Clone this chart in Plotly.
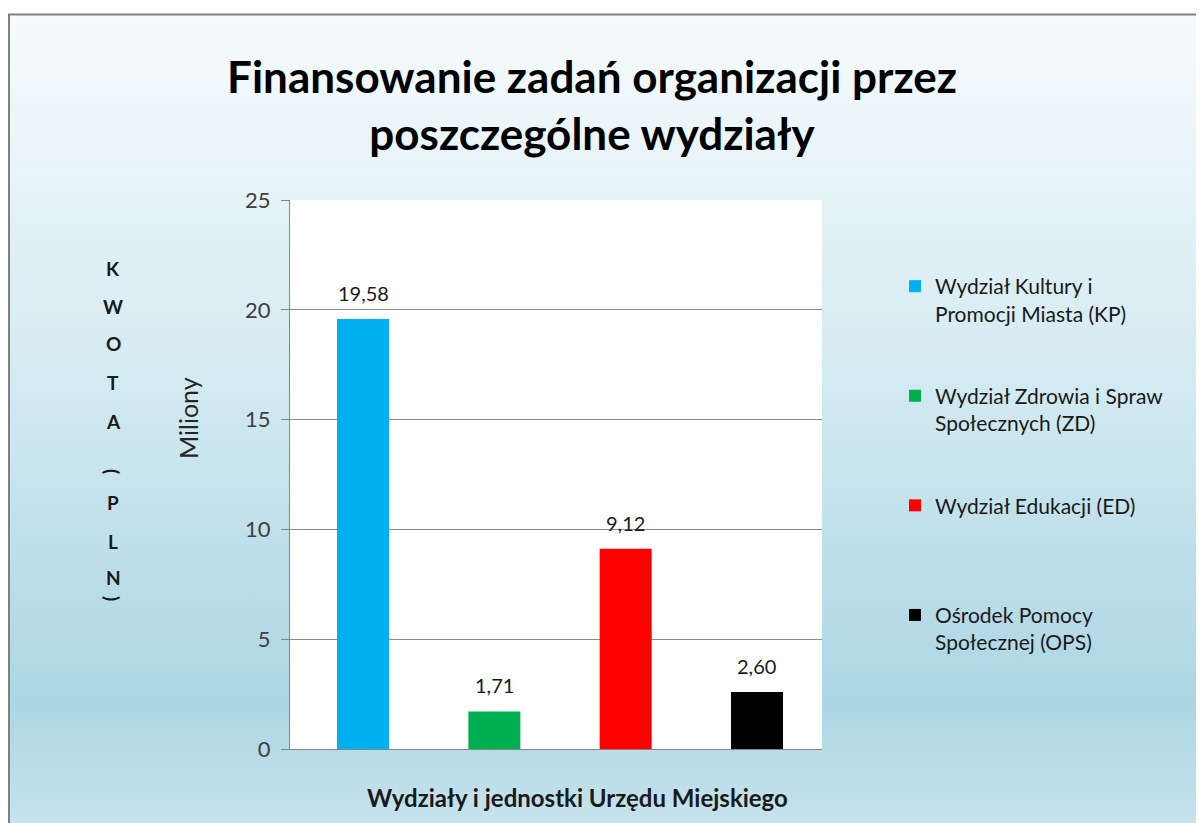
import base64
import plotly.graph_objects as go

# ---------------- data ----------------
categories = ["KP", "ZD", "ED", "OPS"]
series_names = [
    "Wydział Kultury i<br>Promocji Miasta (KP)",
    "Wydział Zdrowia i Spraw<br>Społecznych (ZD)",
    "Wydział Edukacji (ED)<br> ",
    "Ośrodek Pomocy<br>Społecznej (OPS)",
]
values_mln = [19.58, 1.71, 9.12, 2.60]
bar_colors = ["#00B0F0", "#00B050", "#FF0000", "#000000"]
y_ticks = [0, 5, 10, 15, 20, 25]
title_text = "Finansowanie zadań organizacji przez<br>poszczególne wydziały"
x_title = "Wydziały i jednostki Urzędu Miejskiego"
y_unit = "Miliony"
y_label_letters = ["K", "W", "O", "T", "A", "(", "P", "L", "N", ")"]

# ---------------- geometry (viewport pixels) ----------------
W, H = 1204, 823
OFF = 8                                # default page body margin
PL, PR, PT, PB = 290, 822, 200, 749    # plot area edges in viewport


def px_x(x):
    return (x - PL) / (PR - PL)


def px_y(y):
    return (PB - y) / (PB - PT)


FONT = "Lato, 'Noto Sans', sans-serif"

fig = go.Figure()
for i, cat in enumerate(categories):
    fig.add_trace(go.Bar(
        x=[cat], y=[values_mln[i]], name=series_names[i],
        marker=dict(color=bar_colors[i], line=dict(width=0)),
        width=0.396, legendgroup=cat,
        hoverinfo="y",
    ))
    fig.add_annotation(
        x=cat, y=values_mln[i], xref="x", yref="y",
        text=f"{values_mln[i]:.2f}".replace(".", ","),
        showarrow=False, yshift=26, xanchor="center", yanchor="middle",
        font=dict(family=FONT, size=20, color="#1a1a1a"),
    )

# gradient background image
svg = (
    '<svg xmlns="http://www.w3.org/2000/svg" width="100" height="100" '
    'viewBox="0 0 100 100" preserveAspectRatio="none">'
    '<defs><linearGradient id="g" x1="0" y1="0" x2="0" y2="1">'
    '<stop offset="0" stop-color="#f6fbfc"/>'
    '<stop offset="0.45" stop-color="#d3eaf1"/>'
    '<stop offset="0.85" stop-color="#acd6e4"/>'
    '<stop offset="1" stop-color="#c6e3ec"/>'
    '</linearGradient></defs>'
    '<rect width="100" height="100" fill="url(#g)"/></svg>'
)
src = "data:image/svg+xml;base64," + base64.b64encode(svg.encode()).decode()
fig.add_layout_image(
    source=src, xref="paper", yref="paper",
    x=px_x(9), y=px_y(15), sizex=px_x(W) - px_x(9), sizey=px_y(15) - px_y(H),
    xanchor="left", yanchor="top", sizing="stretch", layer="below",
)
# white plot area on top of gradient
fig.add_shape(type="rect", xref="paper", yref="paper", x0=0, x1=1, y0=0, y1=1,
              fillcolor="white", line=dict(width=0), layer="below")
# outer grey border (top and left)
fig.add_shape(type="line", xref="paper", yref="paper",
              x0=px_x(8), x1=px_x(W + 5), y0=px_y(14.5), y1=px_y(14.5),
              line=dict(color="#808080", width=2), layer="above")
fig.add_shape(type="line", xref="paper", yref="paper",
              x0=px_x(9), x1=px_x(9), y0=px_y(14), y1=px_y(H + 5),
              line=dict(color="#808080", width=2), layer="above")

# "Miliony"
fig.add_annotation(text=y_unit, xref="paper", yref="paper",
                   x=px_x(188), y=px_y(418), textangle=-90, showarrow=False,
                   xanchor="center", yanchor="middle",
                   font=dict(family=FONT, size=25, color="#262626"))
# vertical KWOTA (PLN)
letter_y = [268, 306, 343, 382, 421, 471, 502, 541, 577, 598]
for ch, yy in zip(y_label_letters, letter_y):
    ang = 90 if ch in "()" else 0
    fig.add_annotation(text=ch, xref="paper", yref="paper",
                       x=px_x(113), y=px_y(yy), textangle=ang, showarrow=False,
                       xanchor="center", yanchor="middle",
                       font=dict(family=FONT, size=19, color="#1a1a1a", weight="bold"))
# x axis title
fig.add_annotation(text=x_title, xref="paper", yref="paper",
                   x=px_x(577), y=px_y(797), showarrow=False,
                   xanchor="center", yanchor="middle",
                   font=dict(family=FONT, size=24, color="#1a1a1a", weight="bold"))

fig.update_layout(
    width=W - OFF, height=H - OFF,
    margin=dict(l=PL - OFF, r=W - PR, t=PT - OFF, b=H - PB, pad=0),
    paper_bgcolor="white", plot_bgcolor="rgba(0,0,0,0)",
    barmode="overlay",
    title=dict(text=title_text, xref="container", yref="container",
               x=(592 - OFF) / (W - OFF), y=1 - 84.5 / (H - OFF),
               xanchor="center", yanchor="middle",
               font=dict(family=FONT, size=44, color="#000000", weight="bold")),
    xaxis=dict(range=[-0.556, 3.495], showticklabels=False, showgrid=False,
               showline=True, linecolor="#868686", linewidth=1, zeroline=False,
               ticks="", fixedrange=True),
    yaxis=dict(range=[0, 25], tickvals=y_ticks, showgrid=True, gridcolor="#8c8c8c",
               gridwidth=1, showline=True, linecolor="#868686", linewidth=1,
               ticks="outside", ticklen=8, tickcolor="#868686", zeroline=False,
               tickfont=dict(family=FONT, size=22, color="#404040"),
               ticklabelstandoff=6, fixedrange=True),
    legend=dict(x=px_x(895), y=px_y(266), xanchor="left", yanchor="top",
                bgcolor="rgba(0,0,0,0)", valign="top", tracegroupgap=52,
                font=dict(family=FONT, size=21, color="#1a1a1a"),
                itemclick=False, itemdoubleclick=False),
    showlegend=True,
)

fig.write_html("out.html")
